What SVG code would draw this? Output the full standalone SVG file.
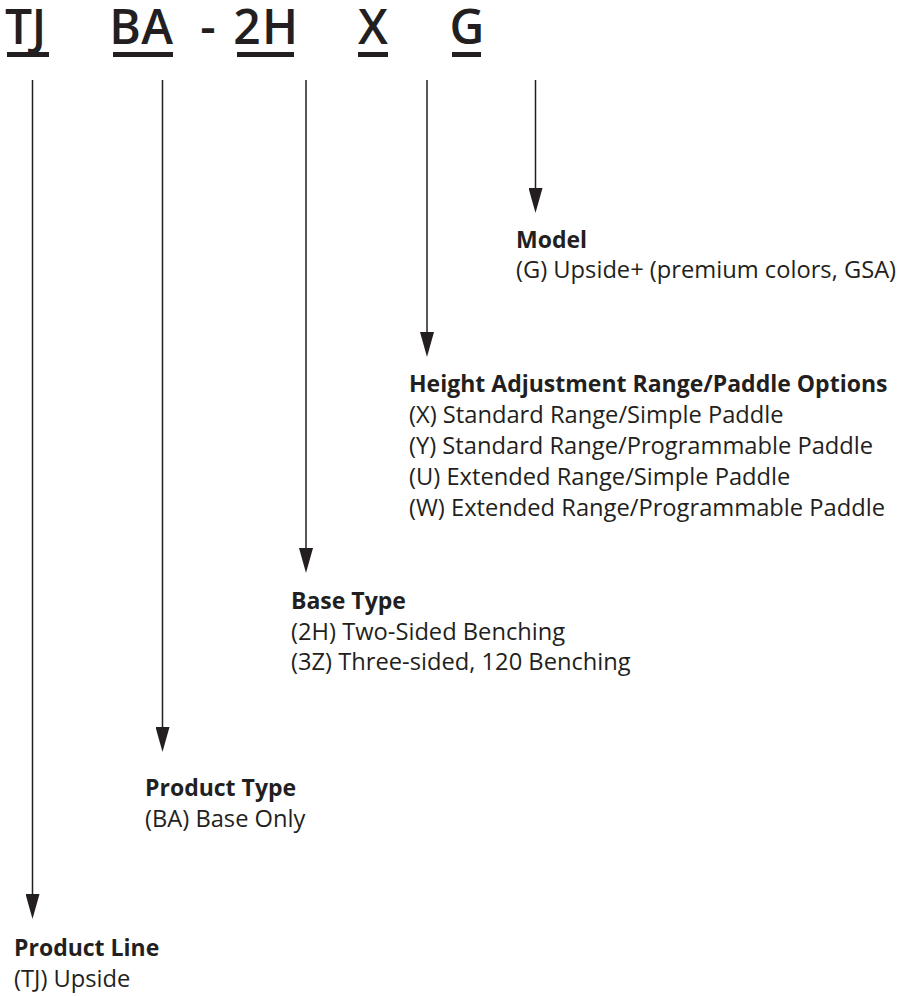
<svg xmlns="http://www.w3.org/2000/svg" width="901" height="996" viewBox="0 0 901 996">
<style>
.code{font-family:"Open Sans","Liberation Sans",sans-serif;font-weight:600;font-size:48px;fill:#231f20;text-anchor:middle}
.ul{fill:#231f20}
.h{font-family:"Open Sans","Liberation Sans",sans-serif;font-weight:700;font-size:23px;fill:#231f20}
.t{font-family:"Open Sans","Liberation Sans",sans-serif;font-size:23.7px;fill:#231f20}
.c{stroke:#231f20;stroke-width:1.5;fill:none}
</style>
<defs>
<marker id="ah" markerUnits="userSpaceOnUse" markerWidth="25" markerHeight="14" refX="0" refY="7" orient="auto" viewBox="0 0 25 14"><path d="M0,0 L25,7 L0,14 Z" fill="#231f20"/></marker>
</defs>
<g id="code">
<text class="code" x="18.5" y="44">T</text>
<text class="code" x="39" y="44">J</text>
<rect class="ul" x="7" y="52" width="42" height="5"/>
<text class="code" x="125" y="44">B</text>
<text class="code" x="157" y="44">A</text>
<rect class="ul" x="113" y="52" width="60" height="5"/>
<text class="code" x="208" y="44">-</text>
<text class="code" x="247" y="44">2</text>
<text class="code" x="280" y="44">H</text>
<rect class="ul" x="237" y="52" width="57" height="5"/>
<text class="code" x="373" y="44">X</text>
<rect class="ul" x="358" y="52" width="30" height="5"/>
<text class="code" x="467" y="44">G</text>
<rect class="ul" x="452" y="52" width="29" height="5"/>
</g>
<g id="connectors">
<path class="c" d="M32.5,80 V894" marker-end="url(#ah)"/>
<path class="c" d="M162.5,80 V727" marker-end="url(#ah)"/>
<path class="c" d="M306,80 V548" marker-end="url(#ah)"/>
<path class="c" d="M427,80 V332" marker-end="url(#ah)"/>
<path class="c" d="M535.5,80 V188" marker-end="url(#ah)"/>
</g>
<g id="model">
<text class="h" x="516" y="248">Model</text>
<text class="t" x="516" y="278">(G) Upside+ (premium colors, GSA)</text>
</g>
<g id="height">
<text class="h" x="409" y="392">Height Adjustment Range/Paddle Options</text>
<text class="t" x="409" y="423">(X) Standard Range/Simple Paddle</text>
<text class="t" x="409" y="454">(Y)  Standard Range/Programmable Paddle</text>
<text class="t" x="409" y="485">(U) Extended Range/Simple Paddle</text>
<text class="t" x="409" y="516">(W) Extended Range/Programmable Paddle</text>
</g>
<g id="base-type">
<text class="h" x="291" y="609">Base Type</text>
<text class="t" x="291" y="640">(2H) Two-Sided Benching</text>
<text class="t" x="291" y="670">(3Z) Three-sided, 120 Benching</text>
</g>
<g id="product-type">
<text class="h" x="145" y="796">Product Type</text>
<text class="t" x="145" y="827">(BA) Base Only</text>
</g>
<g id="product-line">
<text class="h" x="14" y="956">Product Line</text>
<text class="t" x="14" y="987">(TJ) Upside</text>
</g>
</svg>
